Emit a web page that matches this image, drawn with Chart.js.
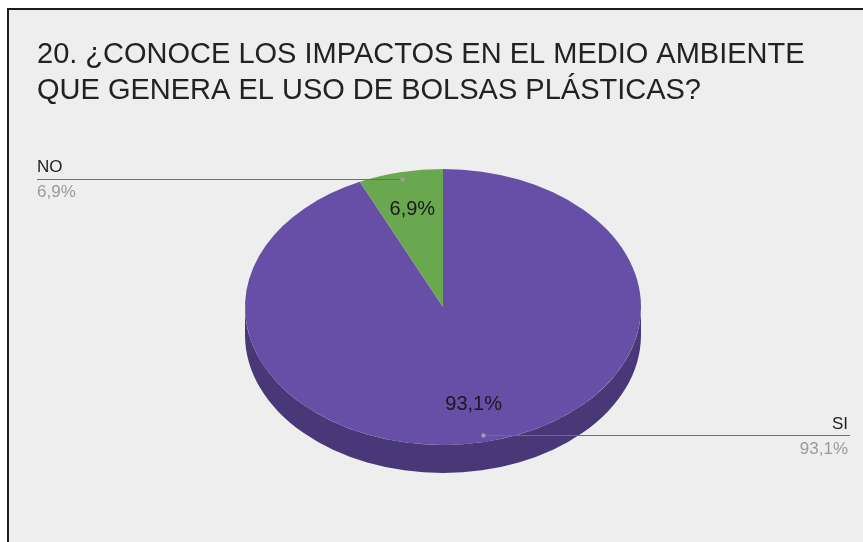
<!DOCTYPE html>
<html lang="es">
<head>
  <meta charset="UTF-8" />
  <title>Bolsas plásticas</title>
  <style>
    html, body { margin: 0; padding: 0; background: #fff; overflow: hidden; }
    .frame {
      position: absolute; left: 7px; top: 8px; width: 1000px; height: 1000px;
      border-left: 2px solid #1c1c1c; border-top: 2px solid #1c1c1c;
      background: #eeeeee;
    }
    .wrap { position: absolute; left: 0; top: 0; width: 863px; height: 542px; }
  </style>
</head>
<body>
  <div class="frame"></div>
  <div class="wrap"><canvas id="pie"></canvas></div>

  <script src="https://cdn.jsdelivr.net/npm/chart.js"></script>
  <script>
    // data
    const categories = ["SI", "NO"];
    const values = [93.1, 6.9];
    const titleLines = [
      "20. ¿CONOCE LOS IMPACTOS EN EL MEDIO AMBIENTE",
      "QUE GENERA EL USO DE BOLSAS PLÁSTICAS?"
    ];

    const sliceColors = ["#674ea7", "#6aa84f"];
    const sideColors = ["#483877", "#4a7637"];
    const TILT = 138 / 198;   // vertical squash of the top face
    const DEPTH = 28;         // thickness of the pie
    const FONT = "'Liberation Sans', Arial, sans-serif";

    const total = values.reduce((a, b) => a + b, 0);
    const pct = v => (v / total * 100).toFixed(1).replace(".", ",") + "%";

    // point on the (squashed) top face for a given angle / radius fraction
    function facePoint(arc, angle, f) {
      return {
        x: arc.x + Math.cos(angle) * arc.outerRadius * f,
        y: arc.y + Math.sin(angle) * arc.outerRadius * f * TILT
      };
    }

    const pie3d = {
      id: "pie3d",
      beforeDatasetsDraw(chart) {
        const ctx = chart.ctx;
        const arcs = chart.getDatasetMeta(0).data;
        // side walls (only the front half is visible)
        arcs.forEach((arc, i) => {
          const rx = arc.outerRadius, ry = rx * TILT;
          [[0, Math.PI], [2 * Math.PI, 3 * Math.PI]].forEach(([lo, hi]) => {
            const a0 = Math.max(arc.startAngle, lo);
            const a1 = Math.min(arc.endAngle, hi);
            if (a1 <= a0) return;
            ctx.beginPath();
            ctx.ellipse(arc.x, arc.y + DEPTH, rx, ry, 0, a0, a1);
            ctx.ellipse(arc.x, arc.y, rx, ry, 0, a1, a0, true);
            ctx.closePath();
            ctx.fillStyle = sideColors[i];
            ctx.fill();
          });
        });
        // squash the top face
        const a = arcs[0];
        ctx.save();
        ctx.translate(a.x, a.y);
        ctx.scale(1, TILT);
        ctx.translate(-a.x, -a.y);
      },
      afterDatasetsDraw(chart) {
        const ctx = chart.ctx;
        ctx.restore();
        const arcs = chart.getDatasetMeta(0).data;

        // title
        ctx.save();
        ctx.fillStyle = "#222";
        ctx.font = "29px " + FONT;
        ctx.textAlign = "left";
        ctx.textBaseline = "alphabetic";
        ctx.fillText(titleLines[0], 37, 63);
        ctx.fillText(titleLines[1], 37, 99);

        arcs.forEach((arc, i) => {
          const mid = (arc.startAngle + arc.endAngle) / 2;
          // inner percentage
          const p = facePoint(arc, mid, 0.72);
          ctx.font = "20px " + FONT;
          ctx.fillStyle = "#1a1a1a";
          ctx.textAlign = "center";
          ctx.textBaseline = "middle";
          ctx.fillText(pct(values[i]), p.x, p.y);

          // leader line + outside label
          const d = facePoint(arc, mid, 0.95);
          const left = d.x < arc.x;
          const xEnd = left ? 37 : 850;
          ctx.strokeStyle = "#6f6f6f";
          ctx.lineWidth = 1;
          ctx.beginPath();
          ctx.moveTo(d.x, Math.round(d.y) + 0.5);
          ctx.lineTo(xEnd, Math.round(d.y) + 0.5);
          ctx.stroke();
          ctx.fillStyle = "#9e9e9e";
          ctx.beginPath();
          ctx.arc(d.x, Math.round(d.y) + 0.5, 2.2, 0, Math.PI * 2);
          ctx.fill();

          ctx.textAlign = left ? "left" : "right";
          ctx.textBaseline = "alphabetic";
          ctx.font = "17px " + FONT;
          ctx.fillStyle = "#222";
          ctx.fillText(categories[i], left ? 37 : 848, d.y - 6.5);
          ctx.fillStyle = "#9a9a9a";
          ctx.fillText(pct(values[i]), left ? 37 : 848, d.y + 18.5);
        });
        ctx.restore();
      }
    };

    new Chart(document.getElementById("pie"), {
      type: "pie",
      data: {
        labels: categories,
        datasets: [{
          data: values,
          backgroundColor: sliceColors,
          borderWidth: 0,
          clip: false
        }]
      },
      options: {
        responsive: true,
        maintainAspectRatio: false,
        animation: false,
        events: [],
        layout: { padding: { top: 109, bottom: 37, left: 245, right: 222 } },
        plugins: {
          legend: { display: false },
          tooltip: { enabled: false },
          title: { display: false }
        }
      },
      plugins: [pie3d]
    });
  </script>
</body>
</html>
